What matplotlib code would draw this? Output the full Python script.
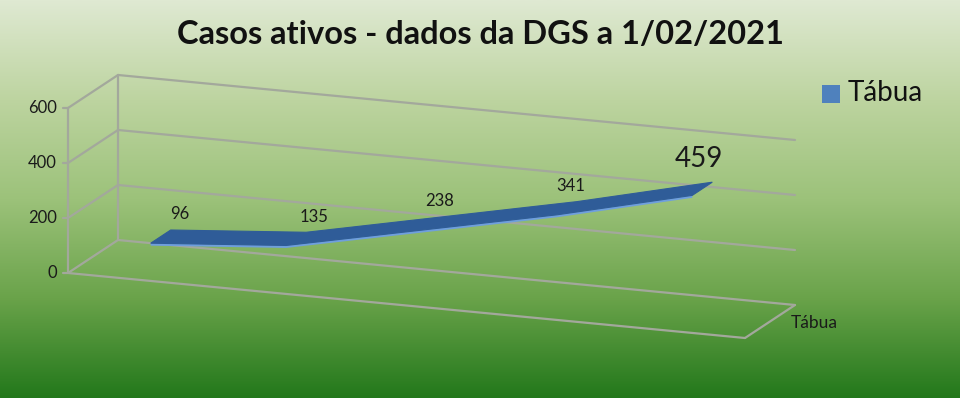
import numpy as np
import matplotlib
matplotlib.use("Agg")
import matplotlib.pyplot as plt
from matplotlib.colors import LinearSegmentedColormap
from matplotlib.patches import Polygon, Rectangle

# ---- data ----
title = "Casos ativos - dados da DGS a 1/02/2021"
series_name = "Tábua"
values = [96, 135, 238, 341, 459]
yticks = [0, 200, 400, 600]

plt.rcParams['font.family'] = ['Lato', 'DejaVu Sans']

W, H = 960, 398
fig = plt.figure(figsize=(9.6, 3.98), dpi=100)
ax = fig.add_axes([0, 0, 1, 1])
ax.set_xlim(0, W)
ax.set_ylim(H, 0)
ax.axis('off')

# background gradient
cmap = LinearSegmentedColormap.from_list('bg', [
    (0.00, '#dfe9d2'),
    (0.25, '#bdd4a0'),
    (0.50, '#9cc27a'),
    (0.75, '#6aa34a'),
    (1.00, '#23781b')])
grad = np.linspace(0, 1, 256).reshape(-1, 1)
ax.imshow(grad, cmap=cmap, aspect='auto', extent=[0, W, H, 0], zorder=0)

# oblique 3D projection of chart space (x fraction, value, depth fraction)
X0, Y0 = 68.0, 273.0
EX = (677.0, 65.0)
EZ = (50.0, -33.0)
vmax = yticks[-1]
VS = 165.0 / vmax

def proj(xf, v, z):
    return (X0 + xf * EX[0] + z * EZ[0], Y0 + xf * EX[1] + z * EZ[1] - v * VS)

grid_kw = dict(color='#a3a89c', lw=1.6, solid_capstyle='round', zorder=2)

def seg(p, q, **kw):
    ax.plot([p[0], q[0]], [p[1], q[1]], **kw)

# walls / gridlines
for v in yticks:
    seg(proj(0, v, 0), proj(0, v, 1), **grid_kw)
    seg(proj(0, v, 1), proj(1, v, 1), **grid_kw)
    p = proj(0, v, 0)
    seg((p[0] - 5, p[1]), p, **grid_kw)
    ax.text(p[0] - 11, p[1], f"{v}", ha='right', va='center', fontsize=12,
            color='#1a1a1a', zorder=5)
seg(proj(0, 0, 0), proj(0, vmax, 0), **grid_kw)
seg(proj(0, 0, 1), proj(0, vmax, 1), **grid_kw)
seg(proj(0, 0, 0), proj(1, 0, 0), **grid_kw)
seg(proj(1, 0, 0), proj(1, 0, 1), **grid_kw)

# ribbon line
n = len(values)
xs = [(i + 0.5) / n for i in range(n)]
z0, z1 = 0.30, 0.70
front = [proj(x, v, z0) for x, v in zip(xs, values)]
back = [proj(x, v, z1) for x, v in zip(xs, values)]
edge_low = [proj(x, v - 9, z0) for x, v in zip(xs, values)]
ax.add_patch(Polygon(front + edge_low[::-1], closed=True, facecolor='#6f9fdc',
                     edgecolor='none', zorder=3))
ax.add_patch(Polygon(front + back[::-1], closed=True, facecolor='#2f5c98',
                     edgecolor='#2f5c98', lw=0.8, zorder=4))

# data labels
label_dx = [5, 4, -6, -10, -17]
for i, (x, v) in enumerate(zip(xs, values)):
    p = proj(x, v, 0.78)
    big = (i == n - 1)
    ax.text(p[0] + label_dx[i], p[1] - (21 if big else 13), f"{v}",
            ha='center', va='center', fontsize=20 if big else 12,
            color='#1a1a1a', zorder=6)

# series (depth) axis label
p = proj(1, 0, 0.5)
ax.text(p[0] + 21, p[1] + 2, series_name, ha='left', va='center', fontsize=12.5,
        color='#1a1a1a', zorder=5)

# title
ax.text(480, 35, title, ha='center', va='center', fontsize=23.5,
        fontweight='bold', color='#111111', zorder=5)

# legend
ax.add_patch(Rectangle((822, 85), 18, 18, facecolor='#4f81bd', edgecolor='none', zorder=5))
ax.text(848, 93, series_name, ha='left', va='center', fontsize=20,
        color='#111111', zorder=5)

fig.savefig('out.png', dpi=100)
